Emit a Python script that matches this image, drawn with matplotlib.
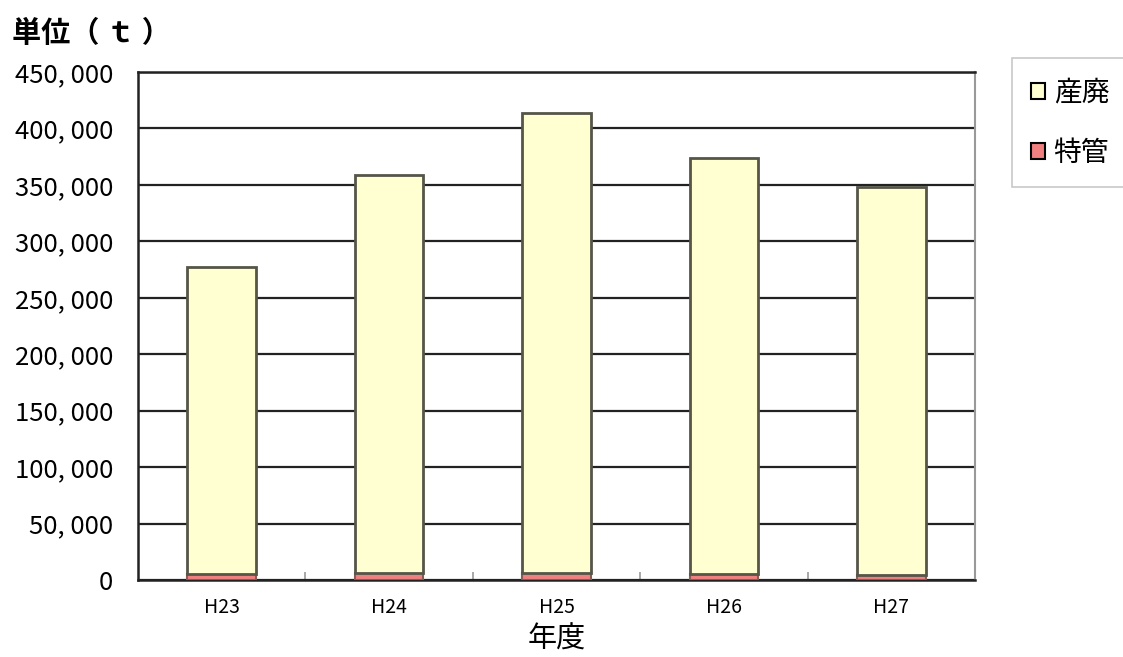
import matplotlib
matplotlib.use("Agg")
import matplotlib.pyplot as plt
import numpy as np
from matplotlib.ticker import FuncFormatter, MultipleLocator

plt.rcParams['font.family'] = ['Noto Sans CJK JP', 'DejaVu Sans']

years = ["H23", "H24", "H25", "H26", "H27"]
tokkan = [5000, 6500, 6000, 5500, 4500]          # 特管
sanpai_total = [277000, 359000, 413500, 373500, 348000]
sanpai = [t - k for t, k in zip(sanpai_total, tokkan)]  # 産廃

fig = plt.figure(figsize=(11.23, 6.57), dpi=100)
ax = fig.add_axes([138/1123, 1 - 580/657, (975-138)/1123, (580-72)/657])

x = np.arange(len(years))
w = 0.41
ax.bar(x, tokkan, w, color="#F08080", edgecolor="#8B5A50", linewidth=1.5, zorder=3, label="特管")
ax.bar(x, sanpai, w, bottom=tokkan, color="#FFFFD2", edgecolor="#555548", linewidth=2, zorder=3, label="産廃")

ax.set_xlim(-0.5, len(years) - 0.5)
ax.set_ylim(0, 450000)
ax.yaxis.set_major_locator(MultipleLocator(50000))
ax.yaxis.set_major_formatter(FuncFormatter(lambda v, p: f"{int(v):,}".replace(",", ", ")))
ax.grid(axis="y", color="#222222", linewidth=1.6, zorder=0)
ax.set_axisbelow(True)

ax.set_xticks(x)
ax.set_xticklabels(years, fontsize=14)
ax.tick_params(axis="x", length=0, pad=12)
ax.set_xticks(np.arange(0.5, len(years) - 0.5, 1), minor=True)
ax.tick_params(axis="x", which="minor", direction="in", length=6, width=1.2, color="#999999")
ax.tick_params(axis="y", length=0, pad=18, labelsize=18.5)

for s in ["left", "bottom", "top"]:
    ax.spines[s].set_color("#222222")
    ax.spines[s].set_linewidth(1.8)
ax.spines["right"].set_color("#999999")
ax.spines["right"].set_linewidth(1.5)

ax.set_xlabel("年度", fontsize=21, labelpad=5)
fig.text(12/1123, 1 - 33/657, "単位（ ｔ ）", fontsize=21, fontweight="bold",
         ha="left", va="center")

handles, labels = ax.get_legend_handles_labels()
leg = fig.legend(handles[::-1], labels[::-1], loc="upper left",
                 bbox_to_anchor=(1012/1123, 1 - 58/657), fontsize=20,
                 frameon=True, fancybox=False, edgecolor="#BBBBBB",
                 handlelength=0.5, handleheight=0.5, handletextpad=0.3,
                 labelspacing=1.1, borderpad=0.7, borderaxespad=0)
leg.get_frame().set_linewidth(1.2)
for h in leg.legend_handles:
    h.set_edgecolor("black")
    h.set_linewidth(1.5)

fig.savefig("out.png", dpi=100)
